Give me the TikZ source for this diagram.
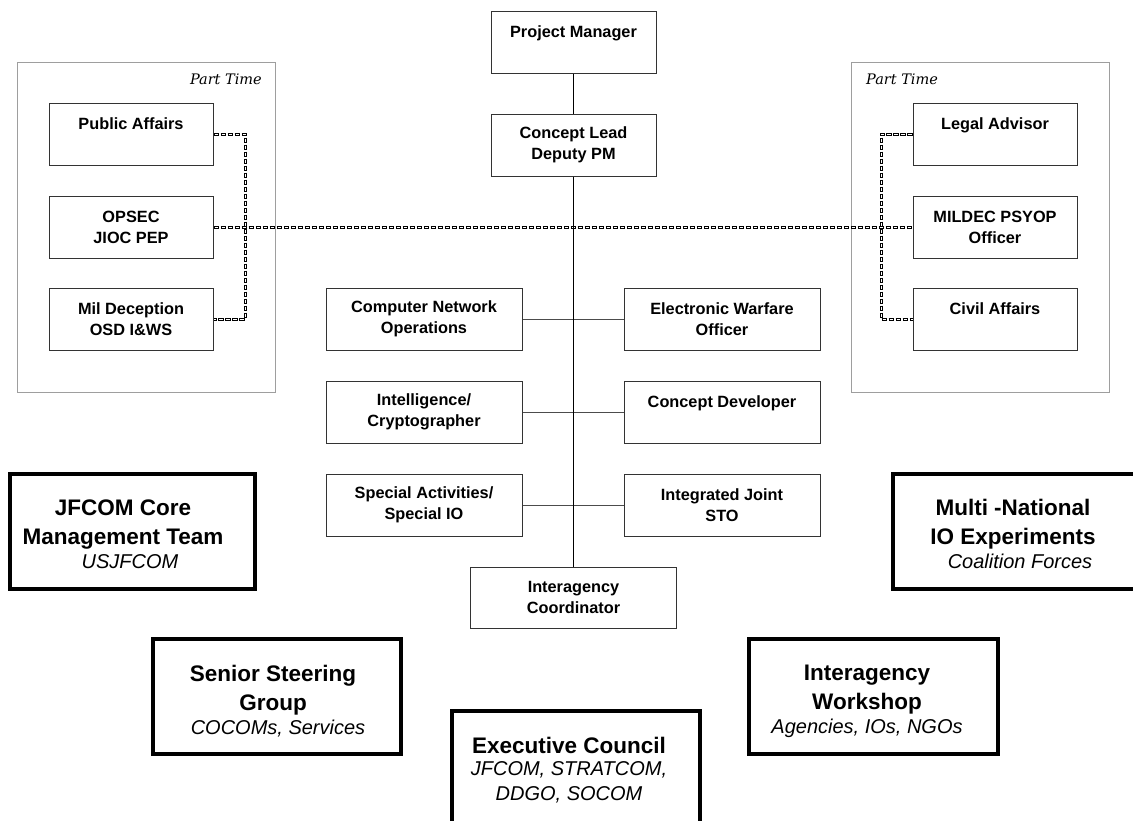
\documentclass[tikz,border=0pt]{standalone}
\usepackage{fontspec}
\setmainfont{Liberation Sans}
\newfontfamily\ptfont{DejaVu Serif}
\newcommand\itl[1]{{\fontsize{20}{24}\selectfont\mdseries\itshape #1}}
\begin{document}
\begin{tikzpicture}[x=1pt,y=-1pt,
  sbox/.style={draw=black!80, line width=1pt, minimum width=#1, minimum height=62pt,
    inner sep=0pt, align=center, font=\fontsize{16.3}{21}\selectfont\bfseries},
  sbox/.default=164pt,
  bbox/.style={draw=black, line width=4pt, minimum width=245pt, minimum height=115pt, inner sep=0pt},
  btext/.style={align=center, inner sep=0pt, font=\fontsize{22.5}{29}\selectfont\bfseries},
  panel/.style={draw=black!38, line width=1pt},
  ptime/.style={inner sep=0pt, font=\fontsize{14.5}{16}\selectfont\ptfont\itshape},
  vline/.style={draw=black, line width=1.2pt},
  hline/.style={draw=black!70, line width=1pt},
  dl/.style={draw=black, line width=3pt, dash pattern=on 5.5pt off 1.5pt,
    postaction={draw=white, line width=0.8pt, dash pattern=on 3.5pt off 3.5pt, dash phase=6pt}}
]
\useasboundingbox (0,0) rectangle (1133,820);
\clip (0,0) rectangle (1133,820);
\fill[white] (0,0) rectangle (1133,820);

% part-time panels
\draw[panel] (17,62) rectangle (275,392);
\draw[panel] (851,62) rectangle (1109,392);
\node[ptime, anchor=base east] (ptl) at (262,84) {Part Time};
\node[ptime, anchor=base west] (ptr) at (866,84) {Part Time};

% core chain
\node[sbox=165pt] (pm) at (573.5,42) {Project Manager\\\mbox{}};
\node[sbox=165pt] (cl) at (573.5,145) {Concept Lead\\Deputy PM};

% left part-time
\node[sbox] (pa)  at (131,134) {Public Affairs\\\mbox{}};
\node[sbox] (ops) at (131,227) {OPSEC\\JIOC PEP};
\node[sbox] (mil) at (131,319) {Mil Deception\\OSD I\&WS};

% right part-time
\node[sbox] (la) at (995,134) {Legal Advisor\\\mbox{}};
\node[sbox] (ms) at (995,227) {MILDEC PSYOP\\Officer};
\node[sbox] (ca) at (995,319) {Civil Affairs\\\mbox{}};

% centre staff
\node[sbox=196pt] (cno) at (424,319) {Computer Network\\Operations};
\node[sbox=196pt] (ewo) at (722,319) {Electronic Warfare\\Officer};
\node[sbox=196pt] (itc) at (424,412) {Intelligence/\\Cryptographer};
\node[sbox=196pt] (cdv) at (722,412) {Concept Developer\\\mbox{}};
\node[sbox=196pt] (sai) at (424,505) {Special Activities/\\Special IO};
\node[sbox=196pt] (ijs) at (722,505) {Integrated Joint\\STO};
\node[sbox=206pt, minimum height=61pt] (iac) at (573.5,597.5) {Interagency\\Coordinator};

% solid connectors
\draw[hline] (cno) -- (ewo);
\draw[hline] (itc) -- (cdv);
\draw[hline] (sai) -- (ijs);
\draw[vline] (pm) -- (cl);

% dashed connectors
\coordinate (lbus) at (245,0);
\coordinate (rbus) at (881,0);
\draw[dl] (pa.east) -| (lbus |- mil.east) -- (mil.east);
\draw[dl] (la.west) -| (rbus |- ca.west) -- (ca.west);
\draw[dl] (ops.east) -- (ms.west);
\draw[vline] (cl) -- (iac);

% big boxes
\node[bbox] (jf) at (132.5,531.5) {};
\node[btext] (jft) at (123,534.5) {JFCOM Core\\Management Team\\[-5pt]\hspace*{14pt}\itl{USJFCOM}};

\node[bbox] (mn) at (1015.5,531.5) {};
\node[btext] (mnt) at (1013,534) {Multi -National\\IO Experiments\\[-5pt]\hspace*{14pt}\itl{Coalition Forces}};

\node[bbox, minimum width=248pt] (ss) at (277,696.5) {};
\node[btext] (sst) at (273,701.5) {Senior Steering\\Group\\[-5pt]\hspace*{10pt}\itl{COCOMs, Services}};

\node[bbox, minimum width=249pt] (iw) at (873.5,696.5) {};
\node[btext] (iwt) at (867,701.5) {Interagency\\Workshop\\[-5pt]\itl{Agencies, IOs, NGOs}};

\node[bbox, minimum width=248pt] (ec) at (576,768.5) {};
\node[btext] (ect) at (569,770) {Executive Council\\[-7pt]\itl{JFCOM, STRATCOM,}\\[-4pt]\itl{DDGO, SOCOM}};
\end{tikzpicture}
\end{document}
